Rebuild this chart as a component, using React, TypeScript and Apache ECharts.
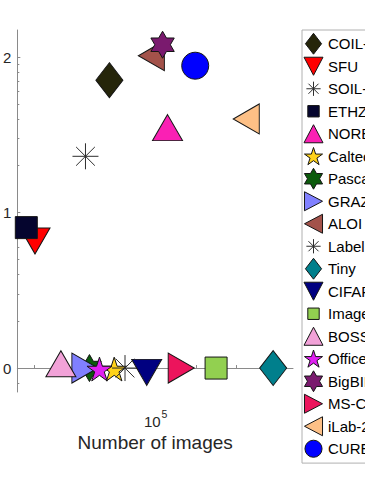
import React, { useEffect, useRef } from "react";
import * as echarts from "echarts";

// ---- data ----
const datasetNames = [
  "COIL-100", "SFU", "SOIL-47", "ETHZ", "NORB", "Caltech-101", "Pascal VOC", "GRAZ-02",
  "ALOI", "LabelMe", "Tiny", "CIFAR-10", "ImageNet", "BOSS", "Office", "BigBIRD",
  "MS-COCO", "iLab-20M", "CURE-OR",
];
const imageCounts = [
  7200, 105, 1850, 64, 196000, 9460, 2320, 1400,
  100000, 17500, 79500000, 60000, 3100000, 457, 4100, 148000,
  334000, 22000000, 946000,
];
const yValues = [
  71, 7, 23, 8, 33, 1, 1, 1,
  102, 1, 1, 1, 1, 1, 1, 120,
  1, 40, 88,
];
const xTickExponents = [2, 3, 4, 5, 6, 7, 8];
const xLabelExponents = [5];
const yLabelExponents = [0, 1, 2];
const yMinorTickValues = [0.8, 2, 3, 4, 5, 6, 7, 8, 9, 20, 30, 40, 50, 60, 70, 80, 90];

// ---- styles ----
const markerShapes = [
  "diamond", "triDown", "asterisk", "square", "triUp", "penta", "hexa", "triRight",
  "triLeft", "asterisk", "diamond", "triDown", "square", "triUp", "penta", "hexa",
  "triRight", "triLeft", "circle",
];
const markerColors = [
  "#25250a", "#ff0000", "transparent", "#05052e", "#fa20b4", "#ffd21a", "#0b5a0b", "#8080ff",
  "#a3524a", "transparent", "#007f8c", "#000080", "#92d050", "#f2a2d8", "#e020f2", "#7a1a6e",
  "#ec145c", "#fdc086", "#0000ff",
];

function starPts(points: number, ratio: number, cx: number, cy: number, R: number) {
  const pts: string[] = [];
  for (let k = 0; k < points * 2; k++) {
    const a = -Math.PI / 2 + (k * Math.PI) / points;
    const rr = k % 2 === 0 ? R : R * ratio;
    pts.push(`${(cx + rr * Math.cos(a)).toFixed(2)},${(cy + rr * Math.sin(a)).toFixed(2)}`);
  }
  return "M" + pts.join("L") + "Z";
}
const asteriskPath = "path://M50,0L50,100M0,50L100,50M14,14L86,86M86,14L14,86";

const OFF = 4.3;
const shapeSpec: Record<string, any> = {
  diamond: { symbol: "diamond", symbolSize: [27, 35], symbolRotate: 0, symbolOffset: [0, 0], keep: false },
  triUp: { symbol: "triangle", symbolSize: [30, 26], symbolRotate: 0, symbolOffset: [0, -OFF], keep: false },
  triDown: { symbol: "triangle", symbolSize: [30, 26], symbolRotate: 180, symbolOffset: [0, OFF], keep: false },
  triRight: { symbol: "triangle", symbolSize: [30, 26], symbolRotate: -90, symbolOffset: [OFF, 0], keep: false },
  triLeft: { symbol: "triangle", symbolSize: [30, 26], symbolRotate: 90, symbolOffset: [-OFF, 0], keep: false },
  square: { symbol: "rect", symbolSize: 22, symbolRotate: 0, symbolOffset: [0, 0], keep: false },
  circle: { symbol: "circle", symbolSize: 27, symbolRotate: 0, symbolOffset: [0, 0], keep: false },
  penta: { symbol: "path://" + starPts(5, 0.382, 50, 50, 50), symbolSize: 25, symbolRotate: 0, symbolOffset: [0, 1], keep: true },
  hexa: { symbol: "path://" + starPts(6, 0.577, 50, 50, 50), symbolSize: 27, symbolRotate: 0, symbolOffset: [0, 0], keep: true },
  asterisk: { symbol: asteriskPath, symbolSize: 26, symbolRotate: 0, symbolOffset: [0, 0], keep: true },
};

// legend icons drawn inside a fixed 20x22 frame (the leading moves pin the frame)
const FRAME = "path://M0,0M20,22";
const legendIconSpec: Record<string, string> = {
  diamond: FRAME + "M10,0L18.5,11L10,22L1.5,11Z",
  triUp: FRAME + "M10,1.5L20,20.5L0,20.5Z",
  triDown: FRAME + "M10,20.5L20,1.5L0,1.5Z",
  triRight: FRAME + "M19.5,11L0.5,21L0.5,1Z",
  triLeft: FRAME + "M0.5,11L19.5,1L19.5,21Z",
  square: FRAME + "M4,5L16,5L16,17L4,17Z",
  circle: FRAME + "M1,11A9,9,0,1,1,19,11A9,9,0,1,1,1,11Z",
  penta: FRAME + starPts(5, 0.382, 10, 11.8, 10),
  hexa: FRAME + starPts(6, 0.577, 10, 11, 11),
  asterisk: FRAME + "M10,3.5L10,18.5M2.5,11L17.5,11M4.7,5.7L15.3,16.3M15.3,5.7L4.7,16.3",
};

const FONT = "'Liberation Sans', Arial, Helvetica, sans-serif";
const AXIS_COLOR = "#8a8a8a";
const TEXT_COLOR = "#262626";

const X_MIN = 1.585;
const X_MAX = 8.39;
const Y_MIN = -0.154;
const Y_MAX = 2.174;

export default function App() {
  const ref = useRef<HTMLDivElement>(null);

  useEffect(() => {
    if (!ref.current) return;
    const chart = echarts.init(ref.current, undefined, { renderer: "svg" });

    const series = datasetNames.map((name, i) => {
      const spec = shapeSpec[markerShapes[i]];
      const isAsterisk = markerShapes[i] === "asterisk";
      return {
        name,
        type: "scatter",
        data: [[Math.log10(imageCounts[i]), Math.log10(yValues[i])]],
        symbol: spec.symbol,
        symbolSize: spec.symbolSize,
        symbolRotate: spec.symbolRotate,
        symbolOffset: spec.symbolOffset,
        symbolKeepAspect: spec.keep,
        itemStyle: {
          color: markerColors[i],
          borderColor: isAsterisk ? "#2e2e2e" : "#151515",
          borderWidth: 1,
          opacity: 1,
        },
        emphasis: { disabled: true },
        clip: false,
        z: 2,
      };
    });

    chart.setOption({
      animation: false,
      backgroundColor: "#ffffff",
      textStyle: { fontFamily: FONT },
      grid: { left: 14, right: 72, top: 30, bottom: 87, containLabel: false },
      xAxis: {
        type: "value",
        min: X_MIN,
        max: X_MAX,
        axisLine: { show: true, lineStyle: { color: AXIS_COLOR, width: 1 } },
        axisTick: {
          show: true,
          inside: true,
          length: 3,
          customValues: xTickExponents,
          lineStyle: { color: AXIS_COLOR },
        },
        axisLabel: {
          show: true,
          customValues: xLabelExponents,
          margin: 16,
          formatter: (v: number) => `{b|10}{s|${Math.round(v)}}`,
          rich: {
            b: { fontSize: 15, lineHeight: 26, color: TEXT_COLOR, fontFamily: FONT },
            s: { fontSize: 10.5, lineHeight: 12, verticalAlign: "top", color: TEXT_COLOR, fontFamily: FONT, padding: [0, 0, 0, 1] },
          },
        },
        splitLine: { show: false },
        name: "Number of images",
        nameLocation: "middle",
        nameGap: 35,
        nameTextStyle: { fontSize: 19, color: TEXT_COLOR, fontFamily: FONT },
      },
      yAxis: [
        {
          type: "value",
          min: Y_MIN,
          max: Y_MAX,
          axisLine: { show: true, lineStyle: { color: AXIS_COLOR, width: 1 } },
          axisTick: {
            show: true,
            inside: true,
            length: 3,
            customValues: yLabelExponents,
            lineStyle: { color: AXIS_COLOR },
          },
          axisLabel: {
            show: true,
            customValues: yLabelExponents,
            margin: 6,
            fontSize: 15,
            color: TEXT_COLOR,
            fontFamily: FONT,
            padding: [0, 0, 6, 0],
            formatter: (v: number) => String(Math.round(v)),
          },
          splitLine: { show: false },
        },
        {
          type: "value",
          min: Y_MIN,
          max: Y_MAX,
          position: "left",
          offset: 0,
          axisLine: { show: false },
          axisTick: {
            show: true,
            inside: true,
            length: 2,
            customValues: yMinorTickValues.map((v) => Math.log10(v)),
            lineStyle: { color: AXIS_COLOR },
          },
          axisLabel: { show: false },
          splitLine: { show: false },
        },
      ],
      legend: {
        type: "plain",
        orient: "vertical",
        left: 302,
        top: 30,
        data: datasetNames.map((name, i) => ({ name, icon: legendIconSpec[markerShapes[i]] })),
        selectedMode: false,
        symbolRotate: 0,
        symbolKeepAspect: true,
        itemWidth: 19,
        itemHeight: 21,
        itemGap: 0.6,
        padding: [2.8, 60, 3.4, 1.5],
        borderColor: "#b0b0b0",
        borderWidth: 1,
        backgroundColor: "#ffffff",
        itemStyle: { borderWidth: 1 },
        textStyle: { fontSize: 15, color: "#000000", fontFamily: FONT },
      },
      series,
    });

    return () => chart.dispose();
  }, []);

  return (
    <div
      ref={ref}
      style={{ position: "absolute", left: 0, top: 0, width: 365, height: 479, background: "#fff" }}
    />
  );
}
